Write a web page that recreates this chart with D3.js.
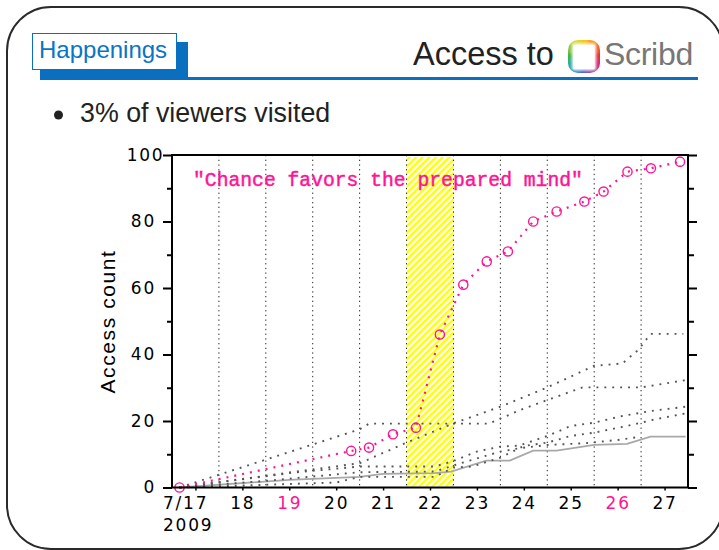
<!DOCTYPE html>
<html>
<head>
<meta charset="utf-8">
<script src="https://cdn.jsdelivr.net/npm/d3@7"></script>
<style>
  html, body { margin: 0; padding: 0; background: #fff; }
  svg { display: block; }
</style>
</head>
<body>
<svg id="chart" width="719" height="550"></svg>
<script>
// ---------------- data ----------------
const xTickDays   = [17.5, 18.5, 19.5, 20.5, 21.5, 22.5, 23.5, 24.5, 25.5, 26.5, 27.5];
const xTickLabels = ["7/17", "18", "19", "20", "21", "22", "23", "24", "25", "26", "27"];
const weekendLabels = ["19", "26"];
const gridDays = [18, 19, 20, 21, 22, 23, 24, 25, 26, 27];
const yTicks = [0, 20, 40, 60, 80, 100];
const yMinorTicks = [10, 30, 50, 70, 90];
const highlightDays = [22, 23];

// highlighted series ("Chance favors the prepared mind")
const chanceDays   = [17.16, 20.82, 21.20, 21.71, 22.20, 22.71, 23.21, 23.71, 24.16, 24.70, 25.20, 25.79, 26.20, 26.71, 27.21, 27.83];
const chanceCounts = [0, 11, 12, 16, 18, 46, 61, 68, 71, 80, 83, 86, 89, 95, 96, 98];

// other (grey dotted) series
const seriesADays   = [17.16, 19.5, 21.0, 22.0, 23.0, 24.0, 25.0, 26.0, 26.6, 26.95, 27.2, 27.9];
const seriesACounts = [0, 4.5, 7.3, 13.5, 19.3, 24.3, 30.1, 36.6, 37.3, 41.5, 46.2, 46.2];

const seriesBDays   = [17.16, 21.0, 21.2, 23.75, 24.42, 25.0, 25.75, 27.0, 27.95];
const seriesBCounts = [0, 17.5, 19.2, 19.2, 23.3, 26.3, 30.1, 30.1, 32.3];

const seriesCDays   = [17.16, 19.6, 21.0, 22.6, 23.0, 23.5, 24.0, 24.4, 25.0, 25.5, 26.0, 26.6, 27.2, 27.95];
const seriesCCounts = [0, 4.5, 6.3, 6.3, 8.0, 10.8, 12.3, 12.6, 15.5, 18.5, 19.5, 21.5, 23.0, 24.3];

const seriesDDays   = [17.16, 20.5, 21.0, 22.6, 23.0, 23.4, 24.0, 24.5, 25.0, 25.5, 26.0, 26.7, 27.3, 27.95];
const seriesDCounts = [0, 1.5, 3.2, 3.2, 6.0, 6.3, 9.0, 12.5, 13.5, 15.5, 16.5, 18.5, 20.5, 22.3];

const seriesEDays   = [17.16, 19.0, 21.0, 22.6, 23.2, 24.0, 24.4, 25.0, 25.8, 26.5, 27.0];
const seriesECounts = [0, 2.0, 4.6, 4.8, 7.5, 10.8, 11.8, 12.8, 13.3, 14.3, 15.3];

// solid light grey series
const solidDays   = [17.16, 19.5, 21.0, 21.5, 22.6, 22.95, 23.7, 24.2, 24.7, 25.2, 26.0, 26.7, 27.2, 27.95];
const solidCounts = [0, 2.3, 3.2, 4.1, 4.3, 4.8, 8.1, 8.1, 11.1, 11.1, 12.8, 13.1, 15.3, 15.3];

const greySeries = [
  [seriesADays, seriesACounts],
  [seriesBDays, seriesBCounts],
  [seriesCDays, seriesCCounts],
  [seriesDDays, seriesDCounts],
  [seriesEDays, seriesECounts]
];

// ---------------- drawing ----------------
const PINK = "#ff1493";
const BLUE = "#0b6fbf";
const svg = d3.select("#chart");
const defs = svg.append("defs");

// frame
svg.append("rect")
  .attr("x", 7).attr("y", 7).attr("width", 716).attr("height", 542)
  .attr("rx", 44).attr("ry", 44)
  .attr("fill", "none").attr("stroke", "#2a2a2a").attr("stroke-width", 2);

// header
svg.append("rect").attr("x", 40).attr("y", 77).attr("width", 658).attr("height", 3).attr("fill", BLUE);
svg.append("rect").attr("x", 40).attr("y", 42).attr("width", 148).attr("height", 38).attr("fill", BLUE);
svg.append("rect").attr("x", 32.5).attr("y", 33.5).attr("width", 144).attr("height", 36)
  .attr("fill", "#fff").attr("stroke", BLUE).attr("stroke-width", 1);
svg.append("text").attr("x", 39).attr("y", 57.5)
  .attr("font-family", "'Liberation Sans', Arial, sans-serif").attr("font-size", 24)
  .attr("fill", "#0a74c6").text("Happenings");

svg.append("text").attr("x", 413).attr("y", 65)
  .attr("font-family", "'Liberation Sans', Arial, sans-serif").attr("font-size", 32.5)
  .attr("fill", "#222").text("Access to");

// Scribd logo icon
const blur = defs.append("filter").attr("id", "blur").attr("x", "-30%").attr("y", "-30%").attr("width", "160%").attr("height", "160%");
blur.append("feGaussianBlur").attr("stdDeviation", 1.4);
const logoClip = defs.append("clipPath").attr("id", "logoClip");
logoClip.append("rect").attr("x", 568).attr("y", 40).attr("width", 32).attr("height", 33).attr("rx", 10);
const logoColors = ["#f6c21c", "#f39a1f", "#ee5a26", "#e42d3b", "#d8246f", "#9a3a9e", "#4a55c0", "#1f86d6", "#22a8a0", "#3bb34a", "#8cc63f", "#d4d830"];
const arcGen = d3.arc().innerRadius(0).outerRadius(30);
const logo = svg.append("g").attr("clip-path", "url(#logoClip)");
const logoInner = logo.append("g").attr("transform", "translate(584,56.5)").attr("filter", "url(#blur)");
logoColors.forEach((c, i) => {
  const a0 = (i - 0.5) * 2 * Math.PI / logoColors.length;
  const a1 = (i + 0.5) * 2 * Math.PI / logoColors.length + 0.02;
  logoInner.append("path").attr("d", arcGen({startAngle: a0, endAngle: a1})).attr("fill", c);
});
logo.append("rect").attr("x", 572).attr("y", 43.5).attr("width", 24).attr("height", 27).attr("rx", 2)
  .attr("fill", "#fff").attr("filter", "url(#blur)");
logo.append("rect").attr("x", 573.5).attr("y", 45).attr("width", 21).attr("height", 24).attr("fill", "#fff");

svg.append("text").attr("x", 604).attr("y", 65)
  .attr("font-family", "'Liberation Sans', Arial, sans-serif").attr("font-size", 32)
  .attr("fill", "#777").attr("letter-spacing", -0.3).text("Scribd");

// bullet
svg.append("circle").attr("cx", 58.5).attr("cy", 115).attr("r", 4.5).attr("fill", "#222");
svg.append("text").attr("x", 80).attr("y", 122)
  .attr("font-family", "'Liberation Sans', Arial, sans-serif").attr("font-size", 26.8)
  .attr("fill", "#222").text("3% of viewers visited");

// ---------------- chart ----------------
const x = d3.scaleLinear().domain([17, 28]).range([172, 688]);
const y = d3.scaleLinear().domain([0, 100]).range([487.5, 155]);
const plotTop = y(100), plotBottom = y(0);

// hatched highlight
const pat = defs.append("pattern").attr("id", "hatch")
  .attr("patternUnits", "userSpaceOnUse").attr("width", 4.7).attr("height", 4.7)
  .attr("patternTransform", "rotate(45)");
pat.append("rect").attr("x", 0).attr("y", 0).attr("width", 2.4).attr("height", 4.7).attr("fill", "#ffff00");
svg.append("rect")
  .attr("x", x(highlightDays[0])).attr("y", plotTop + 2)
  .attr("width", x(highlightDays[1]) - x(highlightDays[0]))
  .attr("height", plotBottom - plotTop - 3)
  .attr("fill", "url(#hatch)");

// vertical dotted gridlines
svg.append("g").selectAll("line").data(gridDays).join("line")
  .attr("x1", d => x(d)).attr("x2", d => x(d))
  .attr("y1", plotTop).attr("y2", plotBottom)
  .attr("stroke", "#222").attr("stroke-width", 1).attr("stroke-dasharray", "1.3,3.4");

// quote
svg.append("text").attr("x", 193).attr("y", 186)
  .attr("font-family", "'Liberation Mono', 'Courier New', monospace").attr("font-size", 19.7)
  .attr("fill", PINK).attr("stroke", PINK).attr("stroke-width", 0.45)
  .text("\"Chance favors the prepared mind\"");

const line = d3.line().x(d => x(d[0])).y(d => y(d[1]));
const zipSeries = (ds, vs) => ds.map((d, i) => [d, vs[i]]);

// solid grey line
svg.append("path").datum(zipSeries(solidDays, solidCounts))
  .attr("d", line).attr("fill", "none").attr("stroke", "#a8a8a8").attr("stroke-width", 1.8);

// grey dotted lines
svg.append("g").selectAll("path").data(greySeries.map(s => zipSeries(s[0], s[1]))).join("path")
  .attr("d", line).attr("fill", "none").attr("stroke", "#555")
  .attr("stroke-width", 1.9).attr("stroke-dasharray", "1.9,6");

// pink series
const chance = zipSeries(chanceDays, chanceCounts);
svg.append("path").datum(chance)
  .attr("d", line).attr("fill", "none").attr("stroke", PINK)
  .attr("stroke-width", 2.2).attr("stroke-dasharray", "2,6");
svg.append("g").selectAll("circle").data(chance).join("circle")
  .attr("cx", d => x(d[0])).attr("cy", d => y(d[1])).attr("r", 4.6)
  .attr("fill", "none").attr("stroke", PINK).attr("stroke-width", 1.4);

// axes box
svg.append("rect").attr("x", x(17)).attr("y", plotTop)
  .attr("width", x(28) - x(17)).attr("height", plotBottom - plotTop)
  .attr("fill", "none").attr("stroke", "#000").attr("stroke-width", 2);

const tickFont = "'DejaVu Sans', Verdana, sans-serif";

// left axis
const yAxisL = svg.append("g").attr("transform", `translate(${x(17)},0)`)
  .call(d3.axisLeft(y).tickValues(yTicks).tickSize(9).tickPadding(7).tickFormat(d3.format("d")));
svg.append("g").attr("transform", `translate(${x(17)},0)`)
  .call(d3.axisLeft(y).tickValues(yMinorTicks).tickSize(5).tickFormat(""))
  .call(g => g.select(".domain").remove());
// right axis
svg.append("g").attr("transform", `translate(${x(28)},0)`)
  .call(d3.axisRight(y).tickValues(yTicks).tickSize(9).tickFormat(""))
  .call(g => g.select(".domain").remove());
svg.append("g").attr("transform", `translate(${x(28)},0)`)
  .call(d3.axisRight(y).tickValues(yMinorTicks).tickSize(6).tickFormat(""))
  .call(g => g.select(".domain").remove());

yAxisL.select(".domain").remove();
svg.selectAll(".tick line").attr("stroke", "#000").attr("stroke-width", 2);
yAxisL.selectAll("text")
  .attr("font-family", tickFont).attr("font-size", 17).attr("letter-spacing", 1.8)
  .attr("fill", "#000")
  .attr("dx", d => d === 100 ? 8.5 : 0);

// bottom axis
const xAxis = svg.append("g").attr("transform", `translate(0,${plotBottom})`)
  .call(d3.axisBottom(x).tickValues(xTickDays).tickSize(3).tickPadding(6)
    .tickFormat((d, i) => xTickLabels[i]));
xAxis.select(".domain").remove();
xAxis.selectAll(".tick line").attr("stroke-width", 1.5);
xAxis.selectAll("text")
  .attr("font-family", tickFont).attr("font-size", 17).attr("letter-spacing", 1.8)
  .attr("fill", (d, i) => weekendLabels.includes(xTickLabels[i]) ? PINK : "#000");
// first label gets the year on a second line
xAxis.selectAll(".tick").filter((d, i) => i === 0).select("text")
  .attr("text-anchor", "start").attr("dx", null)
  .each(function() {
    const t = d3.select(this);
    const lbl = t.text();
    t.text(null);
    t.append("tspan").attr("x", -33).text(lbl);
    t.append("tspan").attr("x", -33).attr("dy", 22).text("2009");
  });

// y axis title
svg.append("text")
  .attr("transform", "translate(115,321.5) rotate(-90)")
  .attr("text-anchor", "middle")
  .attr("font-family", "'Liberation Sans', Arial, sans-serif").attr("font-size", 21)
  .attr("letter-spacing", 1.6).attr("fill", "#000")
  .text("Access count");
</script>
</body>
</html>
